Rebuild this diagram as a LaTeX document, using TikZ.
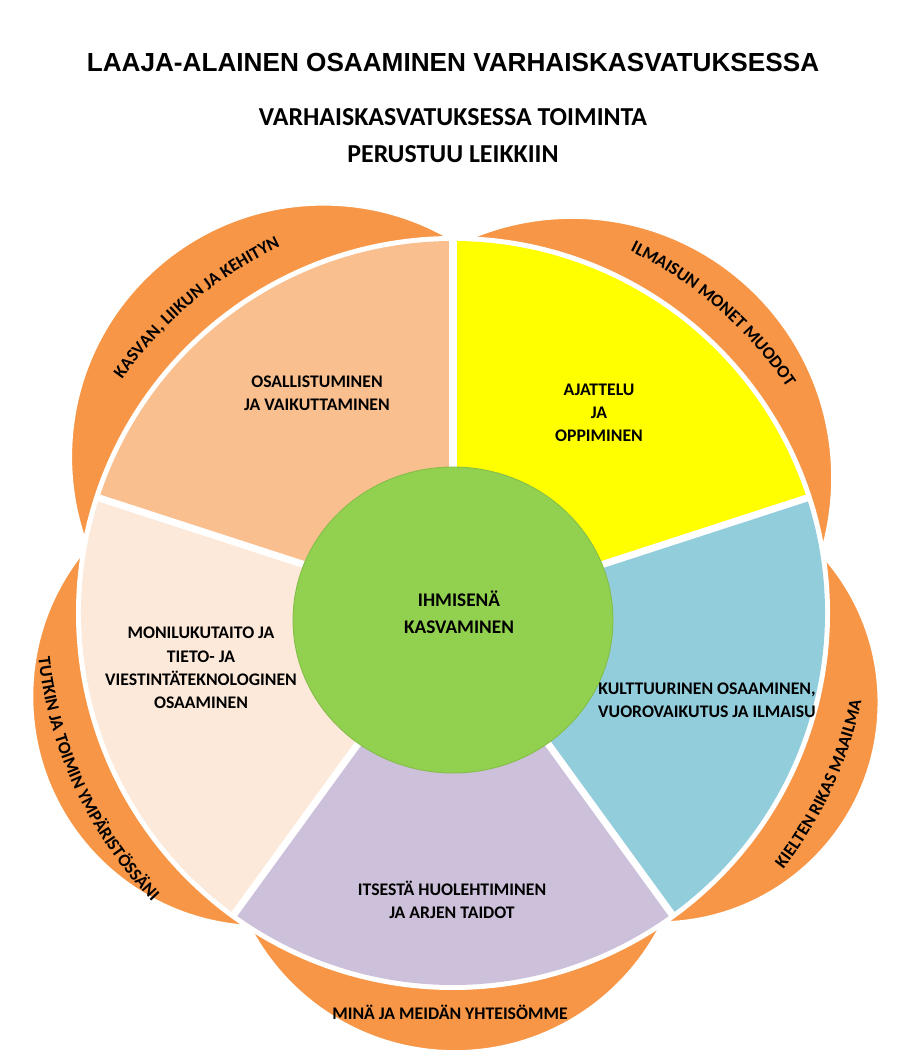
\documentclass[tikz,border=0pt]{standalone}
\usepackage{fontspec}
\setmainfont{Carlito}
\newfontfamily\titlefont{Liberation Sans}
\usetikzlibrary{decorations.text}

\definecolor{petalorange}{HTML}{F79646}
\definecolor{peach}{HTML}{FABF8F}
\definecolor{lemon}{HTML}{FFFF00}
\definecolor{skyblue}{HTML}{92CDDC}
\definecolor{lilac}{HTML}{CCC0DA}
\definecolor{cream}{HTML}{FDE9D9}
\definecolor{sprout}{HTML}{92D050}
\definecolor{sproutedge}{HTML}{84BD48}

\tikzset{
  petal/.style={fill=petalorange, draw=white, line width=1.2pt},
  sepline/.style={white, line width=5pt},
  sectortext/.style={font=\bfseries\fontsize{12.6}{16.5}\selectfont, align=center},
  curvedtext/.style={decorate, decoration={text along path, text align=center,
      text={|\bfseries\fontsize{12.6}{15}\selectfont|#1}}}
}

\begin{document}
\begin{tikzpicture}[x=0.025cm,y=0.025cm]
  \useasboundingbox (-453,-450) rectangle (447,613);

  % orange petals behind the wheel
  \foreach \m/\d/\r in {129.7/202.8/252.2, 48.6/180.1/259.9, -23.5/224.3/219.7,
                        -89.5/207.1/230.9, 203.6/208.4/229.6}
    \filldraw[petal] (\m:\d) circle[radius=\r];
  \fill[white] (0,0) circle[radius=377];

  % the five sectors
  \foreach \c/\s in {peach/90, lemon/18, skyblue/-54, lilac/-126, cream/162}
    \fill[\c] (0,0) -- (\s:372) arc[start angle=\s, delta angle=72, radius=372] -- cycle;
  \foreach \s in {90, 18, -54, -126, 162}
    \draw[sepline] (0,0) -- (\s:375);

  % centre
  \filldraw[fill=sprout, draw=sproutedge, line width=0.6pt] (0,-7) ellipse[x radius=160, y radius=153];

  % titles
  \node[font=\titlefont\bfseries\fontsize{18.6}{22}\selectfont] (title) at (0,550)
    {LAAJA-ALAINEN OSAAMINEN VARHAISKASVATUKSESSA};
  \node[font=\bfseries\fontsize{18.4}{26.3}\selectfont, align=center] (subtitle) at (0,477)
    {VARHAISKASVATUKSESSA TOIMINTA\\PERUSTUU LEIKKIIN};

  % sector labels
  \node[sectortext] (osallistuminen) at (-136,220) {OSALLISTUMINEN\\JA VAIKUTTAMINEN};
  \node[sectortext] (ajattelu) at (146,200) {AJATTELU\\JA\\OPPIMINEN};
  \node[sectortext] (monilukutaito) at (-252,-55) {MONILUKUTAITO JA\\TIETO- JA\\VIESTINTÄTEKNOLOGINEN\\OSAAMINEN};
  \node[sectortext] (kulttuurinen) at (254,-87) {KULTTUURINEN OSAAMINEN,\\VUOROVAIKUTUS JA ILMAISU};
  \node[sectortext] (itsesta) at (-1,-287) {ITSESTÄ HUOLEHTIMINEN\\JA ARJEN TAIDOT};
  \node[font=\bfseries\fontsize{13.7}{19.2}\selectfont, align=center] (ihmisena) at (6,1)
    {IHMISENÄ\\KASVAMINEN};

  % petal labels
  \path[curvedtext={KASVAN, LIIKUN JA KEHITYN}] (165:405) arc[start angle=165, end angle=95, radius=405];
  \path[curvedtext={ILMAISUN MONET MUODOT}] (84:403) arc[start angle=84, end angle=14, radius=403];
  \path[curvedtext={KIELTEN RIKAS MAAILMA}] (-55:418) arc[start angle=-55, end angle=5, radius=418];
  \path[curvedtext={TUTKIN JA TOIMIN YMPÄRISTÖSSÄNI}] (175:417) arc[start angle=175, end angle=235, radius=417];
  \node[sectortext] (mina) at (-3,-399) {MINÄ JA MEIDÄN YHTEISÖMME};
\end{tikzpicture}
\end{document}
